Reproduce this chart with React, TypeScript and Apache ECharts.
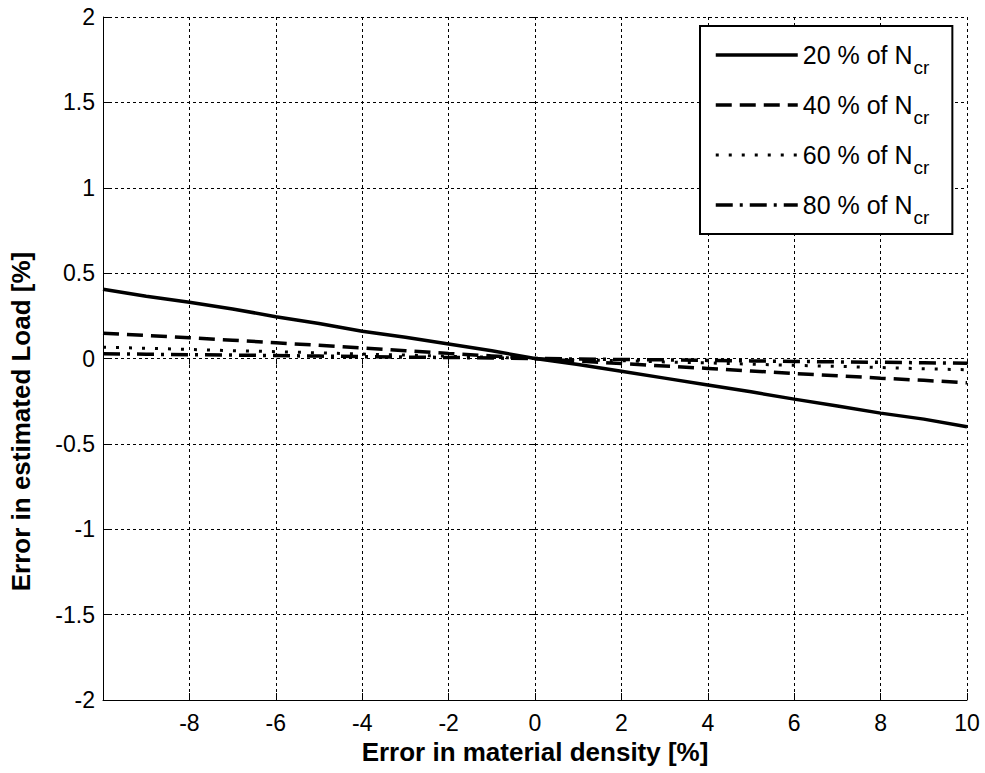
import React, { useEffect, useRef } from "react";
import * as echarts from "echarts";

const xValues = [-10, -9, -8, -7, -6, -5, -4, -3, -2, -1, 0, 1, 2, 3, 4, 5, 6, 7, 8, 9, 10];
const load20 = [0.405, 0.365, 0.33, 0.29, 0.245, 0.205, 0.16, 0.125, 0.085, 0.045, 0, -0.035, -0.075, -0.115, -0.155, -0.195, -0.238, -0.278, -0.32, -0.355, -0.4];
const load40 = [0.148, 0.135, 0.122, 0.107, 0.092, 0.077, 0.062, 0.046, 0.03, 0.015, 0, -0.015, -0.03, -0.044, -0.058, -0.073, -0.088, -0.101, -0.115, -0.128, -0.142];
const load60 = [0.066, 0.06, 0.053, 0.046, 0.04, 0.033, 0.026, 0.02, 0.013, 0.007, 0, -0.007, -0.013, -0.02, -0.026, -0.033, -0.04, -0.046, -0.053, -0.06, -0.066];
const load80 = [0.028, 0.025, 0.022, 0.02, 0.017, 0.014, 0.011, 0.008, 0.006, 0.003, 0, -0.003, -0.006, -0.008, -0.011, -0.014, -0.017, -0.02, -0.022, -0.025, -0.028];
const seriesNames = ["20 % of Ncr", "40 % of Ncr", "60 % of Ncr", "80 % of Ncr"];
const legendLabels = ["20 % of N", "40 % of N", "60 % of N", "80 % of N"];
const lineTypes: any[] = ["solid", [16, 8], [3, 10], [17, 7, 3, 7]];
const lineWidths = [3.5, 3.5, 3, 3.5];

const FONT = "'Liberation Sans', Arial, Helvetica, sans-serif";
const CLEAR = "rgba(0,0,0,0)";

export default function App() {
  const ref = useRef<HTMLDivElement>(null);
  useEffect(() => {
    if (!ref.current) return;
    const chart = echarts.init(ref.current, null, { renderer: "svg" });
    const allData = [load20, load40, load60, load80];
    const series = allData.map((vals, i) => ({
      name: seriesNames[i],
      type: "line",
      data: xValues.map((x, j) => [x, vals[j]]),
      symbol: "none",
      showSymbol: false,
      lineStyle: { color: "#000", width: lineWidths[i], type: lineTypes[i] },
      itemStyle: { color: "#000" },
      z: 10 - i,
    }));
    chart.setOption({
      animation: false,
      backgroundColor: "#fff",
      textStyle: { fontFamily: FONT, color: "#000" },
      grid: { left: 102, right: 18, top: 17, bottom: 73, containLabel: false },
      legend: {
        orient: "vertical",
        left: 700,
        top: 26,
        padding: [7, 23, 7, 14],
        itemGap: 6,
        itemWidth: 82,
        itemHeight: 2,
        backgroundColor: "#fff",
        borderColor: "#000",
        borderWidth: 2,
        borderRadius: 0,
        itemStyle: { color: CLEAR, borderColor: CLEAR, borderWidth: 0 },
        data: seriesNames.map((n, i) => ({
          name: n,
          itemStyle: { color: CLEAR, borderColor: CLEAR, borderWidth: 0 },
          lineStyle: { color: "#000", width: lineWidths[i], type: lineTypes[i] },
        })),
        formatter: (name: string) => {
          const idx = seriesNames.indexOf(name);
          return `{a|${legendLabels[idx]}}{b|cr}`;
        },
        textStyle: {
          fontFamily: FONT,
          color: "#000",
          rich: {
            a: { fontFamily: FONT, fontSize: 25, lineHeight: 44, verticalAlign: "middle", color: "#000" },
            b: { fontFamily: FONT, fontSize: 19, lineHeight: 19, verticalAlign: "top", padding: [25, 0, 0, 1], color: "#000" },
          },
        },
      },
      xAxis: [
        {
          type: "value",
          min: -10,
          max: 10,
          interval: 2,
          name: "Error in material density [%]",
          nameLocation: "middle",
          nameGap: 38,
          nameTextStyle: { fontFamily: FONT, fontSize: 26, fontWeight: "bold", color: "#000" },
          axisLine: { show: true, onZero: false, lineStyle: { color: "#000", width: 1 } },
          axisTick: { show: true, inside: true, length: 7, lineStyle: { color: "#000", width: 1 } },
          axisLabel: {
            fontFamily: FONT,
            fontSize: 23,
            color: "#000",
            margin: 11,
            formatter: (v: number) => (v === -10 ? "" : String(v)),
          },
          splitLine: { show: true, lineStyle: { color: "#000", width: 1, type: [3, 3] } },
        },
        {
          type: "value",
          position: "top",
          min: -10,
          max: 10,
          interval: 2,
          axisLine: { show: false },
          axisTick: { show: true, inside: true, length: 6, lineStyle: { color: "#000", width: 1 } },
          axisLabel: { show: false },
          splitLine: { show: false },
        },
      ],
      yAxis: [
        {
          type: "value",
          min: -2,
          max: 2,
          interval: 0.5,
          name: "Error in estimated Load [%]",
          nameLocation: "middle",
          nameRotate: 90,
          nameGap: 69,
          nameTextStyle: {
            fontFamily: FONT,
            fontSize: 26,
            fontWeight: "bold",
            color: "#000",
            padding: [0, 126, 0, 0],
          },
          axisLine: { show: true, onZero: false, lineStyle: { color: "#000", width: 1 } },
          axisTick: { show: true, inside: true, length: 7, lineStyle: { color: "#000", width: 1 } },
          axisLabel: { fontFamily: FONT, fontSize: 23, color: "#000", margin: 8 },
          splitLine: { show: true, lineStyle: { color: "#000", width: 1, type: [3, 3] } },
        },
        {
          type: "value",
          position: "right",
          min: -2,
          max: 2,
          interval: 0.5,
          axisLine: { show: false },
          axisTick: { show: true, inside: true, length: 6, lineStyle: { color: "#000", width: 1 } },
          axisLabel: { show: false },
          splitLine: { show: false },
        },
      ],
      series,
    });
    return () => chart.dispose();
  }, []);
  return (
    <div
      ref={ref}
      style={{ position: "fixed", left: 0, top: 0, width: 985, height: 773, background: "#fff" }}
    />
  );
}
